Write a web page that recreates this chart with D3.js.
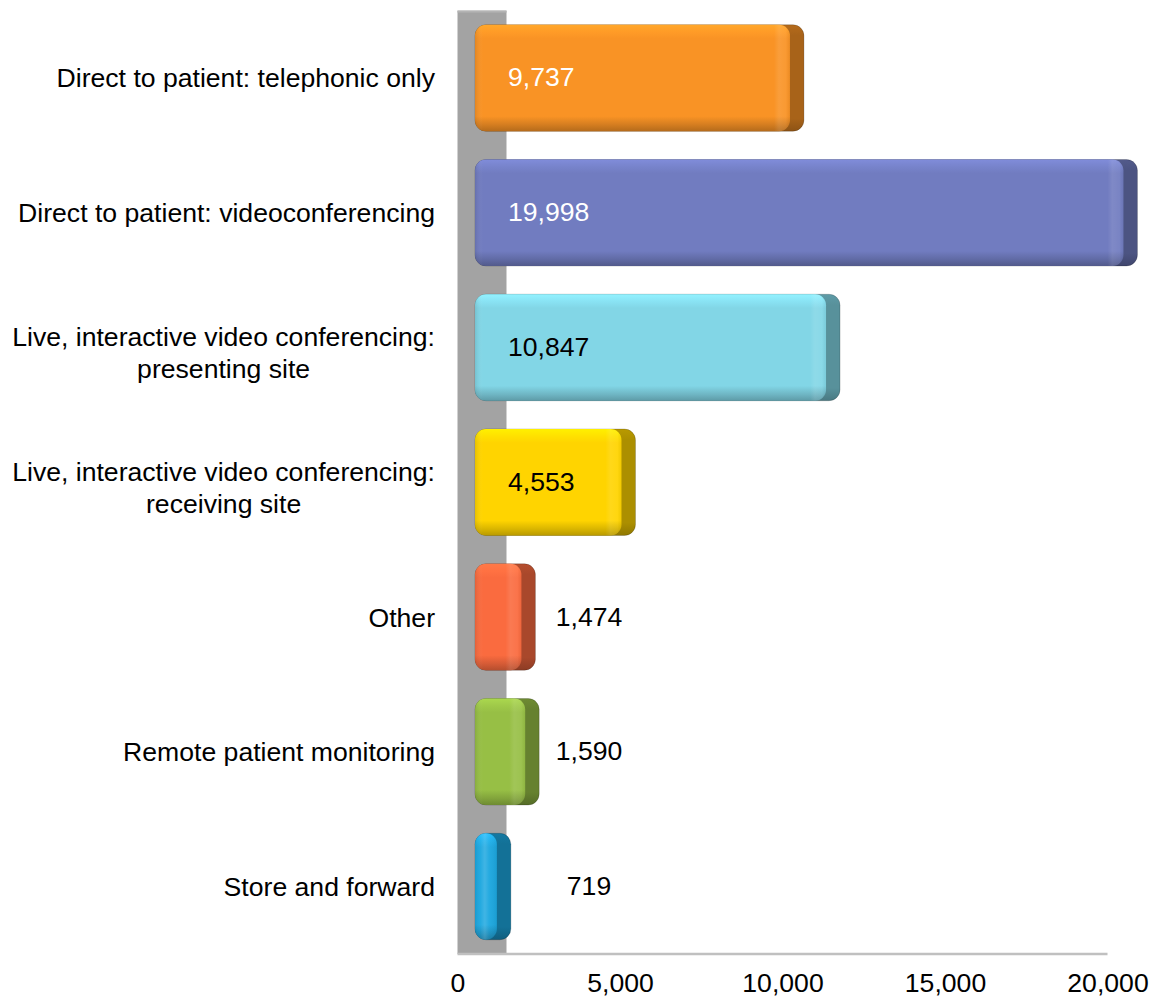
<!DOCTYPE html>
<html>
<head>
<meta charset="utf-8">
<script src="https://cdn.jsdelivr.net/npm/d3@7"></script>
<style>
  html, body { margin: 0; padding: 0; background: #ffffff; }
  svg { display: block; }
  text { font-family: "Liberation Sans", Arial, sans-serif; font-size: 26.6px; fill: #000; }
</style>
</head>
<body>
<svg id="chart" width="1151" height="998"></svg>
<script>
// Telehealth encounters by modality
const categories = [
  "Direct to patient: telephonic only",
  "Direct to patient: videoconferencing",
  "Live, interactive video conferencing: presenting site",
  "Live, interactive video conferencing: receiving site",
  "Other",
  "Remote patient monitoring",
  "Store and forward"
];
const values = [9737, 19998, 10847, 4553, 1474, 1590, 719];
const barColors = ["#F99325", "#717CC0", "#82D6E6", "#FFD400", "#FA6B3F", "#97BF45", "#1CA7DF"];
const tickValues = [0, 5000, 10000, 15000, 20000];

const svg = d3.select("#chart");
const defs = svg.append("defs");

const x = d3.scaleLinear().domain([0, 20000]).range([457.5, 1107.5]);
const y = d3.scaleBand().domain(categories)
  .range([10.6, 953.9]).paddingInner(0.21).paddingOuter(0.105);

const wallDepth = 49;      // width of the side wall behind the bars
const faceStart = 17.5;    // bars start this far right of the zero line
const faceEnd = 16;        // front face extends this far past the value
const sideEnd = 30;        // side face extends this far past the value
const radius = 11;
const fmt = d3.format(",");

// Side wall
svg.append("rect")
  .attr("x", x(0)).attr("y", y.range()[0])
  .attr("width", wallDepth).attr("height", y.range()[1] - y.range()[0])
  .attr("fill", "#a3a3a3");
svg.append("rect")
  .attr("x", x(0)).attr("y", y.range()[0])
  .attr("width", wallDepth).attr("height", 2)
  .attr("fill", "#b4b4b4");

// Floor line
svg.append("line")
  .attr("x1", x(0)).attr("x2", x(20000))
  .attr("y1", y.range()[1]).attr("y2", y.range()[1])
  .attr("stroke", "#c0c0c0").attr("stroke-width", 2.5);

function luminance(c) {
  const r = d3.rgb(c);
  const f = v => { v /= 255; return v <= 0.03928 ? v / 12.92 : Math.pow((v + 0.055) / 1.055, 2.4); };
  return 0.2126 * f(r.r) + 0.7152 * f(r.g) + 0.0722 * f(r.b);
}

const rows = categories.map((c, i) => ({ cat: c, value: values[i], color: barColors[i], i }));

// Gradients for each bar
rows.forEach(d => {
  const base = d3.color(d.color);
  const side = base.darker(1.1);

  const gv = defs.append("linearGradient").attr("id", "face-v-" + d.i)
    .attr("x1", 0).attr("x2", 0).attr("y1", 0).attr("y2", 1);
  [[0, base.brighter(0.35)], [0.07, base.brighter(0.15)], [0.13, base],
   [0.86, base], [0.94, base.darker(0.45)], [1, base.darker(0.9)]]
    .forEach(([o, c]) => gv.append("stop").attr("offset", o).attr("stop-color", c.formatHex()));

  const gs = defs.append("linearGradient").attr("id", "side-v-" + d.i)
    .attr("x1", 0).attr("x2", 0).attr("y1", 0).attr("y2", 1);
  [[0, side.brighter(0.2)], [0.1, side], [0.88, side], [1, side.darker(0.5)]]
    .forEach(([o, c]) => gs.append("stop").attr("offset", o).attr("stop-color", c.formatHex()));

  // horizontal shading on the front face: soft left edge, faint highlight near the right bevel
  const xl = x(0) + faceStart, xr = x(d.value) + faceEnd;
  const w = xr - xl;
  const gh = defs.append("linearGradient").attr("id", "face-h-" + d.i)
    .attr("gradientUnits", "userSpaceOnUse")
    .attr("x1", xl).attr("x2", xr).attr("y1", 0).attr("y2", 0);
  const small = w < 40;
  const stops = small
    ? [[0, "#000", 0.08], [0.25, "#fff", 0.04], [0.45, "#fff", 0.16], [0.65, "#fff", 0.04], [1, "#000", 0.06]]
    : [[0, "#000", 0.1], [Math.min(8 / w, 0.2), "#fff", 0], [1 - 16 / w, "#fff", 0],
       [1 - 11 / w, "#fff", 0.1], [1 - 4 / w, "#fff", 0.06], [1, "#000", 0.05]];
  stops.forEach(([o, c, a]) => gh.append("stop").attr("offset", o)
    .attr("stop-color", c).attr("stop-opacity", a));
});

// Bars
const bars = svg.append("g").selectAll("g").data(rows).join("g");

bars.append("rect")
  .attr("x", x(0) + faceStart)
  .attr("y", d => y(d.cat))
  .attr("width", d => x(d.value) + sideEnd - (x(0) + faceStart))
  .attr("height", y.bandwidth())
  .attr("rx", radius).attr("ry", radius)
  .attr("fill", d => `url(#side-v-${d.i})`)
  .attr("stroke", "rgba(0,0,0,0.18)").attr("stroke-width", 1);

bars.append("rect")
  .attr("x", x(0) + faceStart)
  .attr("y", d => y(d.cat))
  .attr("width", d => x(d.value) + faceEnd - (x(0) + faceStart))
  .attr("height", y.bandwidth())
  .attr("rx", radius).attr("ry", radius)
  .attr("fill", d => `url(#face-v-${d.i})`);

bars.append("rect")
  .attr("x", x(0) + faceStart)
  .attr("y", d => y(d.cat))
  .attr("width", d => x(d.value) + faceEnd - (x(0) + faceStart))
  .attr("height", y.bandwidth())
  .attr("rx", radius).attr("ry", radius)
  .attr("fill", d => `url(#face-h-${d.i})`);

// Value labels: inside the bar when they fit, otherwise to its right
const insideX = x(0) + 50.5;
const outsideCenterX = 589;
bars.append("text")
  .text(d => fmt(d.value))
  .attr("y", d => y(d.cat) + y.bandwidth() / 2 + 8.5)
  .each(function(d) {
    const t = d3.select(this);
    const tw = this.getComputedTextLength();
    const faceW = x(d.value) + faceEnd - (x(0) + faceStart);
    if (faceW > (insideX - (x(0) + faceStart)) + tw + 10) {
      t.attr("x", insideX).attr("text-anchor", "start")
        .style("fill", luminance(d.color) < 0.5 ? "#ffffff" : "#000000");
    } else {
      t.attr("x", outsideCenterX).attr("text-anchor", "middle").style("fill", "#000000");
    }
  });

// Category labels, wrapped to fit the left margin
const labelRight = 435, labelMax = 430, lineH = 32;
svg.append("g").selectAll("text").data(rows).join("text")
  .each(function(d) {
    const t = d3.select(this);
    const words = d.cat.split(" ");
    const lines = [];
    let cur = [];
    const probe = t.append("tspan");
    words.forEach(wd => {
      const trial = cur.concat(wd).join(" ");
      probe.text(trial);
      if (probe.node().getComputedTextLength() > labelMax && cur.length) {
        lines.push(cur.join(" "));
        cur = [wd];
      } else {
        cur.push(wd);
      }
    });
    lines.push(cur.join(" "));
    probe.remove();

    const cy = y(d.cat) + y.bandwidth() / 2;
    const n = lines.length;
    const y0 = cy + 9.5 - (n - 1) * 10.5;
    if (n === 1) {
      t.attr("text-anchor", "end").attr("x", labelRight).attr("y", y0).text(lines[0]);
    } else {
      const widths = lines.map(l => { const s = t.append("tspan").text(l); const w = s.node().getComputedTextLength(); s.remove(); return w; });
      const cx = labelRight - d3.max(widths) / 2;
      t.attr("text-anchor", "middle");
      lines.forEach((l, k) => t.append("tspan").attr("x", cx).attr("y", y0 + k * lineH).text(l));
    }
  });

// Value axis
const axis = svg.append("g")
  .attr("transform", `translate(0,${y.range()[1]})`)
  .call(d3.axisBottom(x).tickValues(tickValues).tickFormat(fmt).tickSize(0));
axis.select(".domain").remove();
axis.selectAll("text")
  .attr("y", 38.5).attr("dy", 0)
  .attr("font-family", null).attr("font-size", null)
  .style("fill", "#000");
</script>
</body>
</html>
